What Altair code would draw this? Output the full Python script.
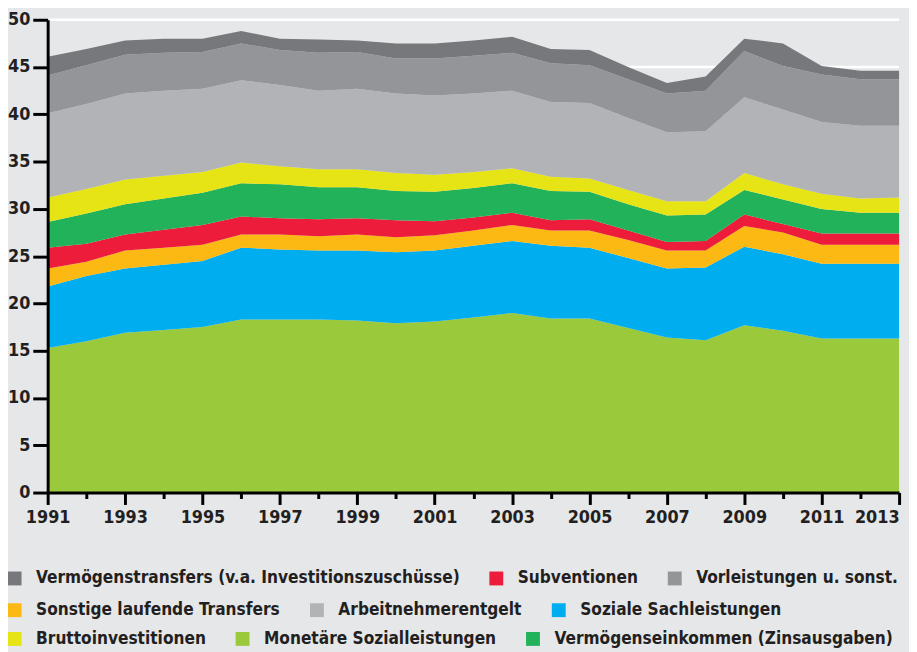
import altair as alt
import pandas as pd

years = list(range(1991, 2014))

# values per component (% of GDP), bottom of stack first
monetaere = [15.3, 16.0, 16.9, 17.2, 17.5, 18.3, 18.3, 18.3, 18.2, 17.9, 18.1, 18.5, 19.0, 18.4, 18.4, 17.4, 16.4, 16.1, 17.7, 17.1, 16.3, 16.3, 16.3]
soziale_sach = [6.5, 6.9, 6.8, 6.9, 7.0, 7.6, 7.4, 7.3, 7.4, 7.5, 7.5, 7.6, 7.6, 7.7, 7.5, 7.4, 7.3, 7.7, 8.3, 8.1, 7.9, 7.9, 7.9]
sonstige = [1.9, 1.5, 1.9, 1.8, 1.7, 1.4, 1.6, 1.5, 1.7, 1.6, 1.6, 1.6, 1.7, 1.6, 1.8, 1.9, 1.9, 1.8, 2.2, 2.3, 2.0, 2.0, 2.0]
subventionen = [2.2, 1.9, 1.7, 1.9, 2.1, 1.9, 1.7, 1.8, 1.7, 1.8, 1.5, 1.4, 1.3, 1.1, 1.2, 1.0, 0.9, 1.0, 1.2, 0.9, 1.2, 1.2, 1.2]
vermoegenseink = [2.7, 3.2, 3.2, 3.3, 3.4, 3.5, 3.6, 3.4, 3.3, 3.1, 3.1, 3.1, 3.1, 3.1, 2.9, 2.8, 2.8, 2.8, 2.6, 2.6, 2.6, 2.2, 2.2]
brutto = [2.6, 2.6, 2.6, 2.4, 2.2, 2.2, 1.9, 1.9, 1.9, 1.9, 1.8, 1.7, 1.6, 1.5, 1.4, 1.5, 1.5, 1.4, 1.8, 1.6, 1.6, 1.5, 1.6]
arbeitnehmer = [8.9, 9.0, 9.1, 9.0, 8.8, 8.7, 8.6, 8.3, 8.5, 8.4, 8.4, 8.3, 8.2, 7.9, 8.0, 7.6, 7.3, 7.4, 8.0, 7.9, 7.6, 7.7, 7.6]
vorleistungen = [4.0, 4.1, 4.1, 4.0, 3.9, 3.9, 3.7, 4.0, 3.9, 3.7, 3.9, 4.0, 4.0, 4.1, 4.0, 4.1, 4.1, 4.3, 4.9, 4.6, 5.0, 4.9, 4.9]
vermoegenstransfers = [2.0, 1.7, 1.5, 1.5, 1.4, 1.3, 1.2, 1.4, 1.2, 1.6, 1.6, 1.6, 1.7, 1.5, 1.6, 1.3, 1.1, 1.5, 1.3, 2.4, 0.9, 0.9, 0.9]

stack_names = [
    "Monetäre Sozialleistungen",
    "Soziale Sachleistungen",
    "Sonstige laufende Transfers",
    "Subventionen",
    "Vermögenseinkommen (Zinsausgaben)",
    "Bruttoinvestitionen",
    "Arbeitnehmerentgelt",
    "Vorleistungen u. sonst.",
    "Vermögenstransfers (v.a. Investitionszuschüsse)",
]
stack_values = [monetaere, soziale_sach, sonstige, subventionen, vermoegenseink,
                brutto, arbeitnehmer, vorleistungen, vermoegenstransfers]
stack_colors = ["#9aca3c", "#00aeef", "#fdb913", "#ed1c3a", "#22b25a",
                "#e7e416", "#b1b3b6", "#939598", "#77787b"]

# legend rows as in the reference
legend_rows = [
    ["Vermögenstransfers (v.a. Investitionszuschüsse)", "Subventionen", "Vorleistungen u. sonst."],
    ["Sonstige laufende Transfers", "Arbeitnehmerentgelt", "Soziale Sachleistungen"],
    ["Bruttoinvestitionen", "Monetäre Sozialleistungen", "Vermögenseinkommen (Zinsausgaben)"],
]

y_ticks = [0, 5, 10, 15, 20, 25, 30, 35, 40, 45, 50]
grid_values = [5, 10, 15, 20, 25, 30, 35, 40, 45, 50]

color_of = dict(zip(stack_names, stack_colors))

rows = []
for i, (name, vals) in enumerate(zip(stack_names, stack_values)):
    for yr, v in zip(years, vals):
        rows.append({"Jahr": yr, "Kategorie": name, "Wert": v, "Stapel": i})
df = pd.DataFrame(rows)

FONT = "DejaVu Sans Condensed, DejaVu Sans, sans-serif"
TXT = "#231f20"

yscale = alt.Scale(domain=[0, 50], nice=False, zero=True)
yaxis = alt.Axis(
    values=y_ticks,
    tickSize=15,
    labelPadding=3,
    labelFont=FONT,
    labelFontSize=18,
    labelFontWeight="bold",
    labelColor=TXT,
    domainColor="black",
    domainWidth=3,
    tickColor="black",
    tickWidth=3,
    grid=False,
    title=None,
    zindex=1,
)

# legend-only layers (one per legend row), hidden beneath the areas
legend_layers = []
for r, names in enumerate(legend_rows):
    legend_layers.append(
        alt.Chart(pd.DataFrame({"Kategorie": names})).mark_square(size=1).encode(
            color=alt.Color(
                "Kategorie:N",
                scale=alt.Scale(domain=names, range=[color_of[n] for n in names]),
                legend=alt.Legend(
                    orient="none",
                    legendX=-42,
                    legendY=[555, 587, 616][r],
                    direction="horizontal",
                    symbolType="square",
                    symbolSize=196,
                    symbolStrokeWidth=0,
                    symbolOpacity=1,
                    labelFont=FONT,
                    labelFontSize=17.3,
                    labelFontWeight="bold",
                    labelColor=TXT,
                    labelLimit=800,
                    labelOffset=13,
                    columnPadding=28,
                    padding=0,
                    title=None,
                ),
            )
        )
    )

grid = alt.Chart(pd.DataFrame({"g": grid_values})).mark_rule(
    color="white", strokeWidth=2.5
).encode(y=alt.Y("g:Q", scale=yscale, axis=yaxis))

area = alt.Chart(df).mark_area(interpolate="linear", opacity=1).encode(
    x=alt.X(
        "Jahr:Q",
        scale=alt.Scale(domain=[1991, 2013], nice=False, zero=False),
        axis=alt.Axis(
            values=years,
            format="d",
            labelExpr="datum.value % 2 == 1 ? datum.label : ''",
            tickSize={"condition": {"test": "datum.value % 2 == 1", "value": 12}, "value": 6},
            labelAlign={"condition": {"test": "datum.value == 2013", "value": "right"}, "value": "center"},
            labelOverlap=False,
            labelPadding=4,
            labelFont=FONT,
            labelFontSize=18,
            labelFontWeight="bold",
            labelColor=TXT,
            domainColor="black",
            domainWidth=3,
            tickColor="black",
            tickWidth=3,
            grid=False,
            title=None,
            zindex=1,
        ),
    ),
    y=alt.Y("Wert:Q", stack="zero", scale=yscale, axis=yaxis),
    color=alt.Color(
        "Kategorie:N",
        scale=alt.Scale(domain=stack_names, range=stack_colors),
        legend=None,
    ),
    order=alt.Order("Stapel:Q"),
)

chart = alt.layer(*legend_layers, grid, area).resolve_scale(
    color="independent"
).properties(
    width=859,
    height=477,
    autosize=alt.AutoSizeParams(type="none"),
    padding={"left": 40, "top": 9, "right": 10, "bottom": 158},
    background="#e6e7e9",
).configure_view(stroke=None)

chart.save("out.html", embed_options={"renderer": "svg", "actions": False})
